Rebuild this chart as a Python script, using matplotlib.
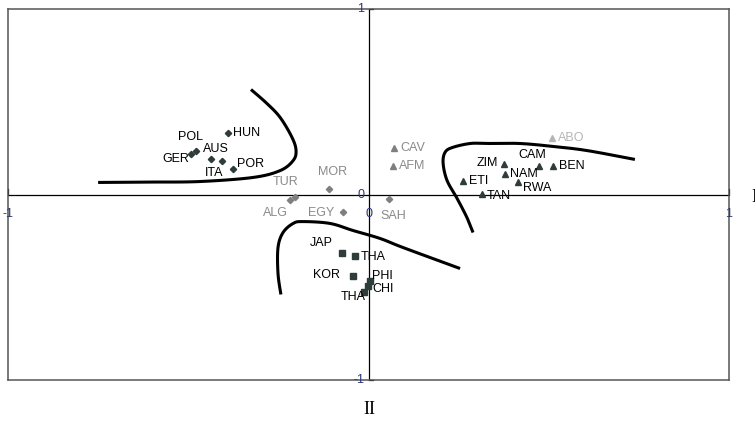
import matplotlib
matplotlib.use("Agg")
import matplotlib.pyplot as plt
import numpy as np

# country scores on the two axes (I, II)
eur_names = ["HUN", "POL", "GER", "AUS", "ITA", "POR"]
eur_x = [-0.390, -0.478, -0.492, -0.437, -0.405, -0.377]
eur_y = [0.329, 0.232, 0.216, 0.189, 0.178, 0.140]

naf_names = ["TUR", "ALG", "MOR", "EGY", "SAH"]
naf_x = [-0.204, -0.217, -0.109, -0.071, 0.058]
naf_y = [-0.011, -0.032, 0.027, -0.097, -0.022]

grey_names = ["CAV", "AFM"]
grey_x = [0.071, 0.068]
grey_y = [0.253, 0.156]

abo_names = ["ABO"]
abo_x = [0.509]
abo_y = [0.307]

saf_names = ["ZIM", "CAM", "BEN", "NAM", "ETI", "RWA", "TAN"]
saf_x = [0.376, 0.473, 0.512, 0.378, 0.262, 0.415, 0.315]
saf_y = [0.167, 0.151, 0.156, 0.113, 0.075, 0.065, 0.005]

asia_names = ["JAP", "THA", "KOR", "PHI", "CHI", "THA"]
asia_x = [-0.073, -0.037, -0.043, 0.004, -0.001, -0.013]
asia_y = [-0.314, -0.334, -0.442, -0.464, -0.491, -0.523]

# hand-drawn group boundaries
curve_eur_x = [-0.750, -0.606, -0.467, -0.320, -0.245, -0.209, -0.201, -0.212, -0.245, -0.282, -0.326]
curve_eur_y = [0.065, 0.067, 0.070, 0.092, 0.129, 0.183, 0.237, 0.307, 0.415, 0.491, 0.566]
curve_afr_x = [0.290, 0.273, 0.246, 0.218, 0.207, 0.212, 0.232, 0.282, 0.329, 0.420, 0.512, 0.606, 0.739]
curve_afr_y = [-0.205, -0.124, -0.022, 0.075, 0.167, 0.226, 0.253, 0.275, 0.275, 0.275, 0.259, 0.237, 0.189]
curve_asia_x = [-0.243, -0.251, -0.251, -0.237, -0.209, -0.182, -0.107, -0.043, 0.032, 0.096, 0.254]
curve_asia_y = [-0.539, -0.426, -0.286, -0.205, -0.156, -0.146, -0.156, -0.194, -0.237, -0.286, -0.399]

# label placement: (dx px, dy px, ha)
eur_off = [(5, 0, "left"), (-6, 14, "center"), (-2, -5, "right"), (5, 10, "center"),
           (-8, -12, "center"), (4, 5, "left")]
naf_off = [(-9, 15, "center"), (-15, -13, "center"), (3, 17, "center"), (-9, -1, "right"),
           (-9, -17, "left")]
grey_off = [(6, 0, "left"), (6, 0, "left")]
abo_off = [(6, 0, "left")]
saf_off = [(-6, 1, "right"), (-7, 11, "center"), (6, 0, "left"), (5, 0, "left"),
           (6, 0, "left"), (5, -6, "left"), (5, -2, "left")]
asia_off = [(-21, 10, "center"), (6, -1, "left"), (-13, 1, "right"), (2, 5, "left"),
            (4, -3, "left"), (-11, -5, "center")]


def smooth(xs, ys, n=12):
    # catmull-rom through the traced points, only to round off the corners
    p = np.column_stack([xs, ys])
    p = np.vstack([p[0], p, p[-1]])
    out = []
    for i in range(1, len(p) - 2):
        p0, p1, p2, p3 = p[i - 1], p[i], p[i + 1], p[i + 2]
        for t in np.linspace(0, 1, n, endpoint=False):
            out.append(0.5 * (2 * p1 + (-p0 + p2) * t
                              + (2 * p0 - 5 * p1 + 4 * p2 - p3) * t ** 2
                              + (-p0 + 3 * p1 - 3 * p2 + p3) * t ** 3))
    out.append(p[-2])
    out = np.array(out)
    return out[:, 0], out[:, 1]


plt.rcParams["font.family"] = ["Liberation Sans", "DejaVu Sans"]

fig = plt.figure(figsize=(7.55, 4.21), dpi=100)
ax = fig.add_axes([8 / 755, 41 / 421, 721 / 755, 371 / 421])
ax.set_xlim(-1, 1)
ax.set_ylim(-1, 1)
ax.set_xticks([])
ax.set_yticks([])
for s in ax.spines.values():
    s.set_color("#555555")
    s.set_linewidth(1.1)

ax.axhline(0, color="black", lw=0.9, zorder=1)
ax.axvline(0, color="black", lw=0.9, zorder=1)

tick_col = "#2a3577"
ax.text(-0.012, 1.0, "1", color=tick_col, fontsize=9, ha="right", va="center")
ax.text(-0.012, -1.0, "-1", color=tick_col, fontsize=9, ha="right", va="center")
ax.text(-0.012, 0.0, "0", color=tick_col, fontsize=9, ha="right", va="center")
ax.text(0.0, -0.105, "0", color=tick_col, fontsize=9, ha="center", va="center")
ax.text(-1.0, -0.105, "-1", color=tick_col, fontsize=9, ha="center", va="center")
ax.text(1.0, -0.105, "1", color=tick_col, fontsize=9, ha="center", va="center")
# small tick marks on the centre axes
for t in (-1, 1):
    ax.plot([0, 0.012], [t, t], color="black", lw=0.9, clip_on=False)
    ax.plot([t, t], [0, 0.03], color="black", lw=0.9, clip_on=False)

for cx, cy in [(curve_eur_x, curve_eur_y), (curve_afr_x, curve_afr_y),
               (curve_asia_x, curve_asia_y)]:
    sx, sy = smooth(cx, cy)
    ax.plot(sx, sy, color="black", lw=2.2, solid_capstyle="butt", zorder=2)

dark = "#2f3c3c"
groups = [
    (eur_names, eur_x, eur_y, eur_off, "D", 3.2, dark, "black"),
    (naf_names, naf_x, naf_y, naf_off, "D", 3.2, "#7f7f7f", "#8a8a8a"),
    (grey_names, grey_x, grey_y, grey_off, "^", 4.0, "#7f7f7f", "#8a8a8a"),
    (abo_names, abo_x, abo_y, abo_off, "^", 4.0, "#b5b5b5", "#b5b5b5"),
    (saf_names, saf_x, saf_y, saf_off, "^", 4.0, dark, "black"),
    (asia_names, asia_x, asia_y, asia_off, "s", 5.0, dark, "black"),
]
for names, xs, ys, offs, mk, ms, mcol, tcol in groups:
    ax.plot(xs, ys, ls="none", marker=mk, ms=ms, color=mcol, zorder=3)
    for n, x, y, (dx, dy, ha) in zip(names, xs, ys, offs):
        ax.annotate(n, (x, y), xytext=(dx * 0.72, dy * 0.72), textcoords="offset points",
                    ha=ha, va="center", fontsize=9, color=tcol, zorder=4)

fig.text(369 / 755, 1 - 410 / 421, "II", family=["Liberation Serif", "DejaVu Serif"],
         fontsize=13, ha="center", va="center")
# axis name "I" sits at the right edge, partly outside the picture as in the source
fig.text(751 / 755, 1 - 198 / 421, "I", family=["Liberation Serif", "DejaVu Serif"],
         fontsize=13, ha="left", va="center")

fig.savefig("out.png", dpi=100)
